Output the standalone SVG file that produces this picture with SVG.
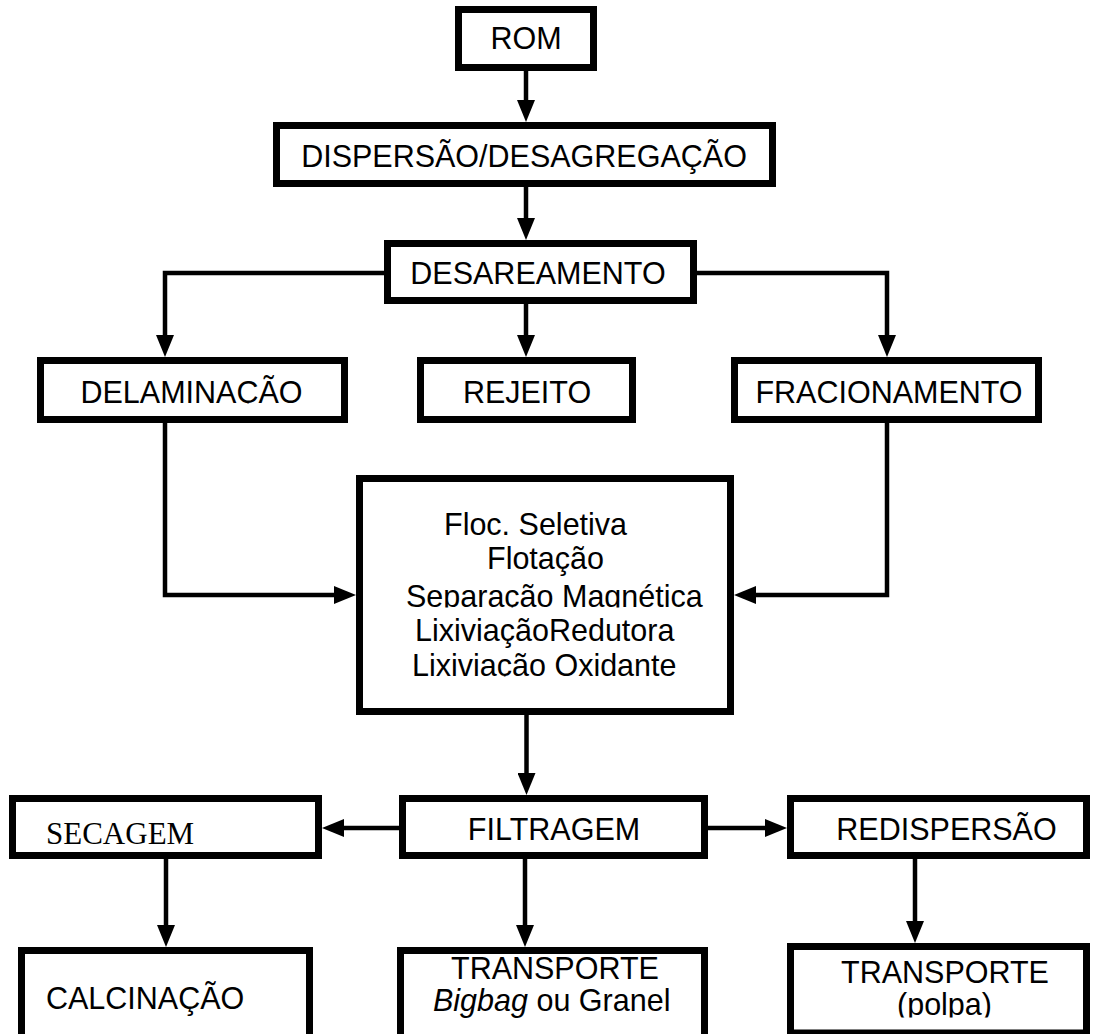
<svg xmlns="http://www.w3.org/2000/svg" width="1094" height="1034" viewBox="0 0 1094 1034">
  <style>
    .box { fill: #ffffff; stroke: #000000; stroke-width: 7; }
    .t { font-family: "Liberation Sans", Arial, sans-serif; font-size: 30.5px; fill: #000000; }
    .ts { font-family: "Liberation Serif", "Times New Roman", serif; font-size: 31px; fill: #000000; }
    .mid { text-anchor: middle; }
    .conn { fill: none; stroke: #000000; stroke-width: 4.5; }
  </style>
  <defs>
    <marker id="arrow" markerUnits="userSpaceOnUse" markerWidth="22" markerHeight="18" viewBox="0 0 22 18" refX="0" refY="9" orient="auto">
      <path d="M0,0 L22,9 L0,18 z" fill="#000000"/>
    </marker>
    <clipPath id="clipDelam"><rect x="0" y="340" width="400" height="63.6"/></clipPath>
    <clipPath id="clipSep"><rect x="380" y="580" width="360" height="27.6"/></clipPath>
    <clipPath id="clipOxi"><rect x="380" y="645" width="360" height="31.6"/></clipPath>
    <clipPath id="clipPolpa"><rect x="790" y="990" width="300" height="27.5"/></clipPath>
  </defs>

  <rect width="1094" height="1034" fill="#ffffff"/>

  <g id="node-rom">
    <rect class="box" x="458.5" y="9.5" width="135" height="58"/>
    <text class="t mid" x="526" y="49">ROM</text>
  </g>
  <g id="node-dispersao">
    <rect class="box" x="276.5" y="125.5" width="496" height="58"/>
    <text class="t mid" x="524" y="167">DISPERSÃO/DESAGREGAÇÃO</text>
  </g>
  <g id="node-desareamento">
    <rect class="box" x="387.5" y="243.5" width="306" height="57"/>
    <text class="t mid" x="538" y="284">DESAREAMENTO</text>
  </g>
  <g id="node-delaminacao">
    <rect class="box" x="40.5" y="360.5" width="304" height="59"/>
    <text class="t mid" x="191.5" y="403" clip-path="url(#clipDelam)">DELAMINAÇÃO</text>
  </g>
  <g id="node-rejeito">
    <rect class="box" x="420.5" y="360.5" width="212" height="59"/>
    <text class="t mid" x="527" y="403">REJEITO</text>
  </g>
  <g id="node-fracionamento">
    <rect class="box" x="734.5" y="360.5" width="304" height="59"/>
    <text class="t mid" x="889" y="403">FRACIONAMENTO</text>
  </g>
  <g id="node-processos">
    <rect class="box" x="359.5" y="478.5" width="371" height="233"/>
    <text class="t" x="444" y="535">Floc. Seletiva</text>
    <text class="t" x="487" y="569">Flotação</text>
    <text class="t" x="406" y="607" clip-path="url(#clipSep)">Separação Magnética</text>
    <text class="t" x="415" y="641">LixiviaçãoRedutora</text>
    <text class="t" x="412" y="676" clip-path="url(#clipOxi)">Lixiviação Oxidante</text>
  </g>
  <g id="node-secagem">
    <rect class="box" x="12.5" y="798.5" width="306" height="57"/>
    <text class="ts" x="46" y="844">SECAGEM</text>
  </g>
  <g id="node-filtragem">
    <rect class="box" x="402.5" y="798.5" width="302" height="57"/>
    <text class="t mid" x="554" y="840">FILTRAGEM</text>
  </g>
  <g id="node-redispersao">
    <rect class="box" x="790.5" y="798.5" width="296" height="57"/>
    <text class="t mid" x="946.5" y="840">REDISPERSÃO</text>
  </g>
  <g id="node-calcinacao">
    <rect class="box" x="21.5" y="950.5" width="288" height="100"/>
    <text class="t" x="46" y="1009">CALCINAÇÃO</text>
  </g>
  <g id="node-transporte-bigbag">
    <rect class="box" x="400.5" y="950.5" width="304" height="100"/>
    <text class="t" x="451" y="979">TRANSPORTE</text>
    <text class="t" x="433" y="1011"><tspan font-style="italic">Bigbag</tspan> ou Granel</text>
  </g>
  <g id="node-transporte-polpa">
    <rect class="box" x="790.5" y="946.5" width="296" height="86.5"/>
    <text class="t mid" x="945" y="983">TRANSPORTE</text>
    <text class="t mid" x="944.5" y="1015" clip-path="url(#clipPolpa)">(polpa)</text>
  </g>

  <g id="connectors">
    <path class="conn" d="M526,71 V100" marker-end="url(#arrow)"/>
    <path class="conn" d="M526,187 V218" marker-end="url(#arrow)"/>
    <path class="conn" d="M384,273 H165 V335" marker-end="url(#arrow)"/>
    <path class="conn" d="M526,304 V335" marker-end="url(#arrow)"/>
    <path class="conn" d="M697,273 H887 V335" marker-end="url(#arrow)"/>
    <path class="conn" d="M165,417 V595 H334" marker-end="url(#arrow)"/>
    <path class="conn" d="M887,417 V595 H756" marker-end="url(#arrow)"/>
    <path class="conn" d="M526.5,715 V773" marker-end="url(#arrow)"/>
    <path class="conn" d="M399,828 H344" marker-end="url(#arrow)"/>
    <path class="conn" d="M708,828 H765" marker-end="url(#arrow)"/>
    <path class="conn" d="M166,859 V925" marker-end="url(#arrow)"/>
    <path class="conn" d="M525,859 V925" marker-end="url(#arrow)"/>
    <path class="conn" d="M915,859 V921" marker-end="url(#arrow)"/>
  </g>
</svg>
